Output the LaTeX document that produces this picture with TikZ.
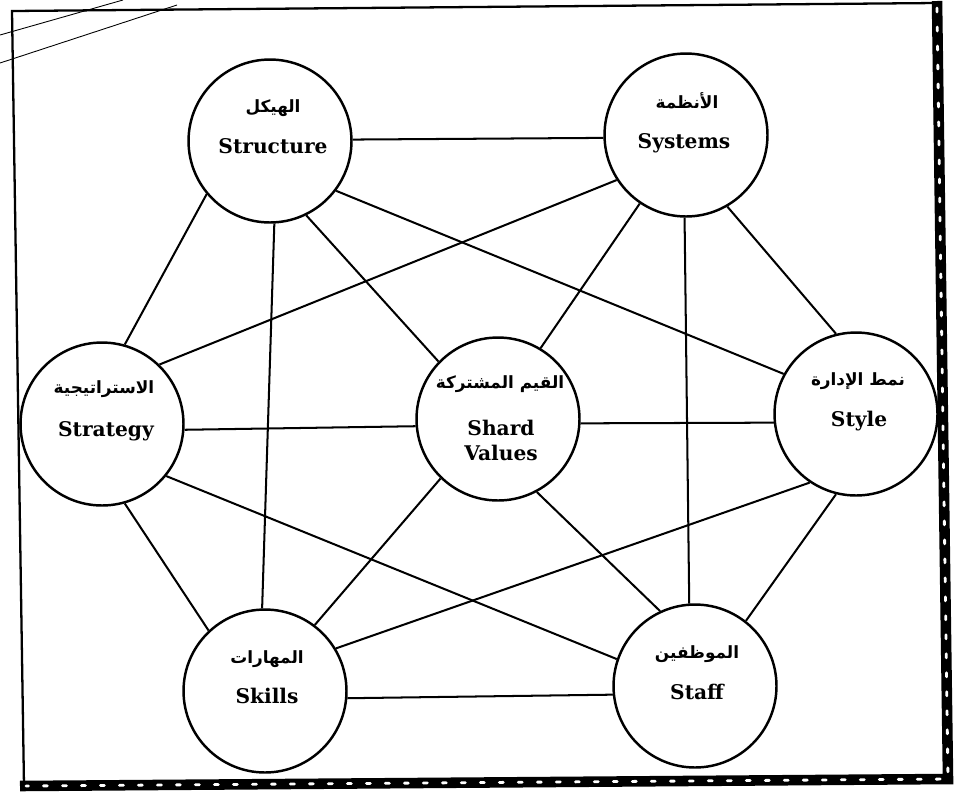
\documentclass[tikz,border=0pt]{standalone}
\usepackage{fontspec}
\newfontfamily\enfont{DejaVu Serif}
\newfontfamily\arabicfont[Script=Arabic]{DejaVu Sans}
\TeXXeTstate=1

\begin{document}
\begin{tikzpicture}[x=0.02cm,y=-0.02cm,
    elem/.style={circle,draw,line width=1.4pt,minimum size=3.26cm,inner sep=0pt},
    ar/.style={font=\arabicfont\bfseries\fontsize{9.6}{12}\selectfont,inner sep=0pt},
    en/.style={font=\enfont\bfseries\fontsize{11.5}{14.2}\selectfont,align=center,inner sep=0pt}]
  \useasboundingbox (0,0) rectangle (962,792);
  \draw[line width=0.5pt] (0,35) -- (123,0);
  \draw[line width=0.5pt] (0,63) -- (177,5);
  \draw[line width=1.3pt] (937,3) -- (12,11) -- (24,786);
  \draw[line width=6pt] (937,1) -- (948,779) -- (20,786);
  \draw[white,line width=1.6pt,line cap=round,dash pattern=on 0.08cm off 0.3cm]
    (937,8) -- (948,779) -- (26,786);

  \node[elem] (str) at (270,141) {};
  \node[elem] (sys) at (686,135) {};
  \node[elem] (stg) at (102,424) {};
  \node[elem] (shv) at (498,419) {};
  \node[elem] (sty) at (856,414) {};
  \node[elem] (skl) at (265,691) {};
  \node[elem] (stf) at (695,686) {};

  \node[ar] (strAr) at (273,108) {\beginR الهيكل\endR};
  \node[en,anchor=base] (strEn) at (273,153) {Structure};
  \node[ar] (sysAr) at (687,101) {\beginR الأنظمة\endR};
  \node[en,anchor=base] (sysEn) at (684,148) {Systems};
  \node[ar] (stgAr) at (104,389) {\beginR الاستراتيجية\endR};
  \node[en,anchor=base] (stgEn) at (106,436) {Strategy};
  \node[ar] (shvAr) at (500,384) {\beginR القيم المشتركة\endR};
  \node[en] (shvEn) at (501,440) {Shard\\Values};
  \node[ar] (styAr) at (858,381) {\beginR نمط الإدارة\endR};
  \node[en,anchor=base] (styEn) at (859,426) {Style};
  \node[ar] (sklAr) at (267,659) {\beginR المهارات\endR};
  \node[en,anchor=base] (sklEn) at (267,703) {Skills};
  \node[ar] (stfAr) at (697,654) {\beginR الموظفين\endR};
  \node[en,anchor=base] (stfEn) at (697,699) {Staff};

  \begin{scope}[line width=1.15pt]
  \draw (str.1) -- (sys.182);
  \draw (str.220) -- (stg.74);
  \draw (str.273) -- (skl.92);
  \draw (str.296) -- (shv.136);
  \draw (str.323) -- (sty.151);
  \draw (sys.213) -- (stg.46);
  \draw (sys.236) -- (shv.59);
  \draw (sys.269) -- (stf.94);
  \draw (sys.300) -- (sty.104);
  \draw (stg.356) -- (shv.185);
  \draw (stg.286) -- (skl.133);
  \draw (stg.321) -- (stf.161);
  \draw (shv.357) -- (sty.186);
  \draw (shv.226) -- (skl.53);
  \draw (shv.298) -- (stf.115);
  \draw (sty.236) -- (skl.31);
  \draw (sty.256) -- (stf.52);
  \draw (skl.355) -- (stf.186);
  \end{scope}
\end{tikzpicture}
\end{document}
